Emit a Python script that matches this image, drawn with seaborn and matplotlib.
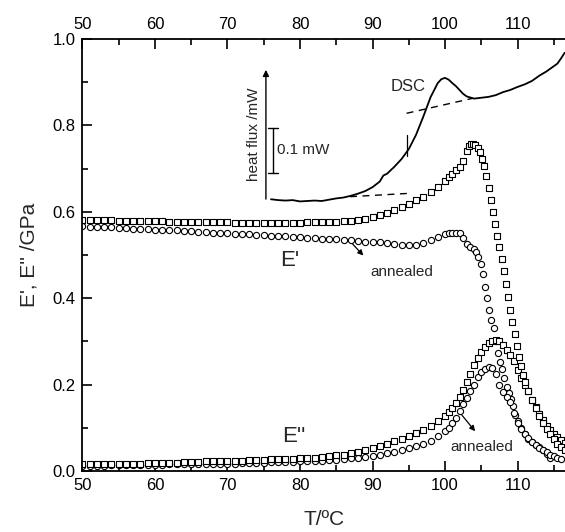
import matplotlib
matplotlib.use('Agg')
import matplotlib.pyplot as plt
import seaborn as sns

# E' (storage modulus), as received -- squares
T_e1 = [50, 51, 52, 53, 54, 55, 56, 57, 58, 59, 60, 61, 62, 63, 64, 65, 66, 67, 68, 69,
        70, 71, 72, 73, 74, 75, 76, 77, 78, 79, 80, 81, 82, 83, 84, 85, 86, 87, 88, 89,
        90, 91, 92, 93, 94, 95, 96, 97, 98, 99, 100, 100.5, 101, 101.5, 102, 102.5, 103,
        103.3, 103.6, 103.9, 104.2, 104.5, 104.8, 105.1, 105.4, 105.7, 106.0, 106.3, 106.6,
        106.9, 107.2, 107.5, 107.8, 108.1, 108.4, 108.7, 109.0, 109.3, 109.6, 109.9, 110.2,
        110.5, 110.8, 111.1, 111.5, 112.0, 112.5, 113.0, 113.5, 114.0, 114.5, 115.0, 115.5,
        116.0, 116.5]
E1 = [0.581, 0.581, 0.580, 0.580, 0.580, 0.579, 0.579, 0.579, 0.578, 0.578, 0.578, 0.578,
      0.577, 0.577, 0.577, 0.577, 0.576, 0.576, 0.576, 0.576, 0.576, 0.575, 0.575, 0.575,
      0.575, 0.575, 0.575, 0.575, 0.575, 0.575, 0.575, 0.576, 0.576, 0.576, 0.577, 0.577,
      0.578, 0.579, 0.581, 0.584, 0.588, 0.593, 0.598, 0.605, 0.612, 0.619, 0.627, 0.635,
      0.645, 0.657, 0.672, 0.680, 0.688, 0.696, 0.704, 0.718, 0.740, 0.752, 0.758, 0.758,
      0.755, 0.748, 0.738, 0.722, 0.705, 0.683, 0.655, 0.628, 0.600, 0.572, 0.545, 0.518,
      0.490, 0.462, 0.432, 0.402, 0.373, 0.346, 0.318, 0.290, 0.265, 0.242, 0.222, 0.205,
      0.185, 0.164, 0.146, 0.128, 0.112, 0.098, 0.085, 0.073, 0.063, 0.055, 0.048]

# E' annealed -- circles
T_e1a = [50, 51, 52, 53, 54, 55, 56, 57, 58, 59, 60, 61, 62, 63, 64, 65, 66, 67, 68, 69,
         70, 71, 72, 73, 74, 75, 76, 77, 78, 79, 80, 81, 82, 83, 84, 85, 86, 87, 88, 89,
         90, 91, 92, 93, 94, 95, 96, 97, 98, 99, 100, 100.5, 101, 101.5, 102, 102.5, 103,
         103.5, 104, 104.3, 104.6, 104.9, 105.2, 105.5, 105.8, 106.1, 106.4, 106.7, 107.0,
         107.3, 107.6, 107.9, 108.2, 108.5, 108.8, 109.1, 109.4, 109.7, 110.0, 110.5, 111.0,
         111.5, 112.0, 112.5, 113.0, 113.5, 114.0, 114.5]
E1a = [0.566, 0.565, 0.565, 0.564, 0.564, 0.563, 0.562, 0.561, 0.561, 0.560, 0.559, 0.558,
       0.557, 0.557, 0.556, 0.555, 0.554, 0.553, 0.552, 0.551, 0.550, 0.549, 0.548, 0.548,
       0.547, 0.546, 0.545, 0.544, 0.543, 0.542, 0.541, 0.540, 0.539, 0.538, 0.537, 0.536,
       0.535, 0.534, 0.532, 0.531, 0.530, 0.530, 0.528, 0.526, 0.524, 0.523, 0.523, 0.527,
       0.534, 0.542, 0.548, 0.551, 0.552, 0.552, 0.550, 0.540, 0.526, 0.518, 0.515, 0.508,
       0.496, 0.480, 0.455, 0.427, 0.400, 0.372, 0.350, 0.330, 0.300, 0.272, 0.252, 0.235,
       0.215, 0.195, 0.180, 0.166, 0.150, 0.130, 0.115, 0.100, 0.086, 0.074, 0.066, 0.060,
       0.055, 0.048, 0.040, 0.030]

# E'' (loss modulus), as received -- squares
T_e2 = [50, 51, 52, 53, 54, 55, 56, 57, 58, 59, 60, 61, 62, 63, 64, 65, 66, 67, 68, 69,
        70, 71, 72, 73, 74, 75, 76, 77, 78, 79, 80, 81, 82, 83, 84, 85, 86, 87, 88, 89,
        90, 91, 92, 93, 94, 95, 96, 97, 98, 99, 100, 100.5, 101, 101.5, 102, 102.5, 103,
        103.5, 104, 104.5, 105, 105.5, 106, 106.5, 107, 107.5, 108, 108.5, 109, 109.5, 110,
        110.5, 111, 111.5, 112, 112.5, 113, 113.5, 114, 114.5, 115, 115.5, 116, 116.5]
E2 = [0.015, 0.015, 0.015, 0.016, 0.016, 0.016, 0.016, 0.017, 0.017, 0.018, 0.018, 0.018,
      0.019, 0.019, 0.020, 0.021, 0.021, 0.022, 0.022, 0.023, 0.023, 0.024, 0.024, 0.025,
      0.025, 0.026, 0.027, 0.027, 0.028, 0.028, 0.029, 0.030, 0.031, 0.032, 0.034, 0.036,
      0.038, 0.041, 0.044, 0.048, 0.053, 0.058, 0.063, 0.069, 0.075, 0.080, 0.088, 0.096,
      0.104, 0.115, 0.128, 0.136, 0.146, 0.158, 0.172, 0.188, 0.205, 0.225, 0.245, 0.262,
      0.276, 0.288, 0.297, 0.302, 0.303, 0.300, 0.292, 0.280, 0.268, 0.255, 0.234, 0.215,
      0.200, 0.185, 0.165, 0.148, 0.132, 0.118, 0.105, 0.095, 0.086, 0.078, 0.071, 0.064]

# E'' annealed -- circles
T_e2a = [50, 51, 52, 53, 54, 55, 56, 57, 58, 59, 60, 61, 62, 63, 64, 65, 66, 67, 68, 69,
         70, 71, 72, 73, 74, 75, 76, 77, 78, 79, 80, 81, 82, 83, 84, 85, 86, 87, 88, 89,
         90, 91, 92, 93, 94, 95, 96, 97, 98, 99, 100, 100.5, 101, 101.5, 102, 102.5, 103,
         103.5, 104, 104.5, 105, 105.5, 106, 106.5, 107, 107.5, 108, 108.5, 109, 109.5, 110,
         110.5, 111, 111.5, 112, 112.5, 113, 113.5, 114, 114.5, 115, 115.5, 116]
E2a = [0.012, 0.012, 0.012, 0.012, 0.013, 0.013, 0.013, 0.013, 0.014, 0.014, 0.014, 0.014,
       0.015, 0.015, 0.015, 0.015, 0.016, 0.016, 0.016, 0.017, 0.017, 0.017, 0.018, 0.018,
       0.019, 0.019, 0.020, 0.020, 0.021, 0.021, 0.022, 0.023, 0.023, 0.024, 0.025, 0.026,
       0.027, 0.029, 0.030, 0.033, 0.035, 0.038, 0.042, 0.045, 0.049, 0.053, 0.058, 0.063,
       0.070, 0.080, 0.092, 0.100, 0.110, 0.122, 0.138, 0.155, 0.170, 0.185, 0.200, 0.218,
       0.228, 0.236, 0.241, 0.238, 0.225, 0.200, 0.183, 0.172, 0.160, 0.135, 0.110, 0.097,
       0.086, 0.076, 0.066, 0.060, 0.054, 0.048, 0.043, 0.038, 0.034, 0.030, 0.027]

# DSC trace, plotted on the same axes (arbitrary offset)
T_dsc = [76, 77, 78, 79, 80, 81, 82, 83, 84, 85, 86, 87, 88, 89, 90, 91, 91.5, 92, 93, 94,
         95, 96, 97, 98, 99, 99.5, 100, 100.5, 101, 101.5, 102, 102.5, 103, 104, 105, 106,
         107, 108, 109, 110, 111, 112, 113, 114, 115, 115.5, 116, 116.5]
dsc = [0.629, 0.627, 0.626, 0.627, 0.624, 0.625, 0.626, 0.625, 0.628, 0.631, 0.633, 0.637,
       0.642, 0.648, 0.657, 0.670, 0.684, 0.688, 0.704, 0.722, 0.745, 0.778, 0.820, 0.865,
       0.898, 0.907, 0.910, 0.906, 0.898, 0.891, 0.882, 0.873, 0.867, 0.862, 0.864, 0.866,
       0.870, 0.877, 0.882, 0.889, 0.895, 0.903, 0.915, 0.925, 0.937, 0.943, 0.955, 0.968]

# dashed DSC baselines
base_lo_T = [86.9, 95.4]
base_lo = [0.635, 0.643]
base_hi_T = [94.7, 103.9]
base_hi = [0.828, 0.863]

sns.set_style('ticks')
plt.rcParams['font.family'] = ['Liberation Sans', 'DejaVu Sans']

fig = plt.figure(figsize=(5.65, 5.32), dpi=100)
ax = fig.add_axes([0.146, 0.1147, 0.854, 0.812])

mk = dict(s=20, facecolor='white', edgecolor='black', linewidth=0.8, legend=False)
sns.scatterplot(x=T_e1a, y=E1a, marker='o', ax=ax, **mk)
sns.scatterplot(x=T_e2a, y=E2a, marker='o', ax=ax, **mk)
sns.scatterplot(x=T_e2, y=E2, marker='s', ax=ax, **mk)
sns.scatterplot(x=T_e1, y=E1, marker='s', ax=ax, **mk)

sns.lineplot(x=T_dsc, y=dsc, sort=False, estimator=None, color='black', lw=1.3, ax=ax)
sns.lineplot(x=base_lo_T, y=base_lo, sort=False, estimator=None, color='black',
             lw=1.0, linestyle=(0, (5, 4)), ax=ax)
sns.lineplot(x=base_hi_T, y=base_hi, sort=False, estimator=None, color='black',
             lw=1.0, linestyle=(0, (5, 4)), ax=ax)

# onset marker on DSC
ax.plot([94.7, 94.7], [0.728, 0.778], color='black', lw=0.9)

# heat flux arrow and scale bar
ax.annotate('', xy=(75.3, 0.935), xytext=(75.3, 0.623),
            arrowprops=dict(arrowstyle='-|>', color='black', lw=1.0, mutation_scale=9))
ax.text(73.7, 0.780, 'heat flux /mW', rotation=90, ha='center', va='center', fontsize=11)
ax.plot([76.3, 76.3], [0.689, 0.793], color='black', lw=1.0)
ax.plot([75.6, 77.0], [0.793, 0.793], color='black', lw=1.0)
ax.plot([75.6, 77.0], [0.689, 0.689], color='black', lw=1.0)
ax.text(76.8, 0.743, '0.1 mW', ha='left', va='center', fontsize=11)

ax.text(94.9, 0.890, 'DSC', ha='center', va='center', fontsize=12)
ax.text(78.6, 0.488, "E'", ha='center', va='center', fontsize=16)
ax.text(79.2, 0.079, "E''", ha='center', va='center', fontsize=16)

ax.annotate('', xy=(89.0, 0.494), xytext=(87.0, 0.530),
            arrowprops=dict(arrowstyle='-|>', color='black', lw=0.9, mutation_scale=8))
ax.text(94.0, 0.460, 'annealed', ha='center', va='center', fontsize=11)
ax.annotate('', xy=(104.4, 0.087), xytext=(102.1, 0.134),
            arrowprops=dict(arrowstyle='-|>', color='black', lw=0.9, mutation_scale=8))
ax.text(105.1, 0.056, 'annealed', ha='center', va='center', fontsize=11)

ax.set_xlim(50, 116.55)
ax.set_ylim(0.0, 1.0)
ax.set_xticks([50, 60, 70, 80, 90, 100, 110])
ax.set_xticks([55, 65, 75, 85, 95, 105, 115], minor=True)
ax.set_yticks([0.0, 0.2, 0.4, 0.6, 0.8, 1.0])
ax.set_yticks([0.1, 0.3, 0.5, 0.7, 0.9], minor=True)
ax.set_yticklabels(['0.0', '0.2', '0.4', '0.6', '0.8', '1.0'])
ax.tick_params(which='both', direction='in', top=True, labeltop=True, right=False,
               labelsize=12, width=1.2, colors='black')
ax.tick_params(which='major', length=7, pad=5)
ax.tick_params(which='minor', length=4)
for s in ['left', 'bottom', 'top']:
    ax.spines[s].set_linewidth(1.3)
    ax.spines[s].set_color('black')
ax.spines['right'].set_visible(False)

ax.set_xlabel('T/ºC', fontsize=15, labelpad=12)
ax.set_ylabel("E', E'' /GPa", fontsize=15, labelpad=10)

fig.savefig('out.png', dpi=100)
